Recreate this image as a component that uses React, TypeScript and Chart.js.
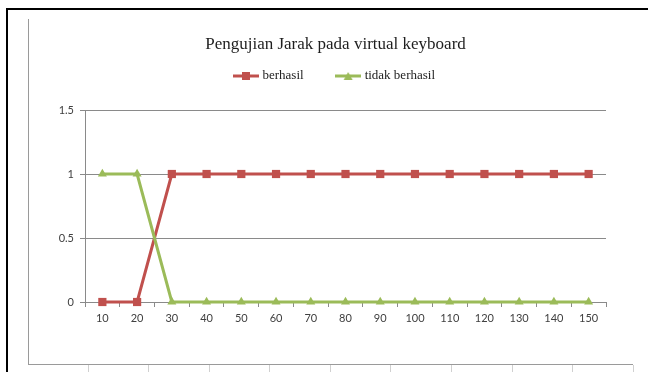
import React, { useEffect, useRef } from 'react';
import { Chart, registerables } from 'chart.js';

Chart.register(...registerables);

// ---- data ----
const distances = ['10', '20', '30', '40', '50', '60', '70', '80', '90', '100', '110', '120', '130', '140', '150'];
const berhasil = [0, 0, 1, 1, 1, 1, 1, 1, 1, 1, 1, 1, 1, 1, 1];
const tidakBerhasil = [1, 1, 0, 0, 0, 0, 0, 0, 0, 0, 0, 0, 0, 0, 0];
const seriesNames = ['berhasil', 'tidak berhasil'];
const titleText = 'Pengujian Jarak pada virtual keyboard';
const yTickValues = [0, 0.5, 1, 1.5];
const yTickLabels = ['0', '0.5', '1', '1.5'];

const RED = '#C0504D';
const GREEN = '#9BBB59';
const GRID = '#8A8A8A';
const LABEL = '#404040';

function legendIcon(color: string, style: 'rect' | 'triangle') {
  const c = document.createElement('canvas');
  c.width = 26;
  c.height = 10;
  const ctx = c.getContext('2d')!;
  ctx.strokeStyle = color;
  ctx.lineWidth = 3;
  ctx.beginPath();
  ctx.moveTo(0, 5);
  ctx.lineTo(26, 5);
  ctx.stroke();
  ctx.fillStyle = color;
  if (style === 'rect') {
    ctx.fillRect(9, 1, 8, 8);
  } else {
    ctx.beginPath();
    ctx.moveTo(13, 1);
    ctx.lineTo(17.5, 9);
    ctx.lineTo(8.5, 9);
    ctx.closePath();
    ctx.fill();
  }
  return c;
}

const legendSpacer = {
  id: 'legendSpacer',
  beforeLayout(chart: any) {
    const lg = chart.legend;
    if (lg && !lg.__spaced) {
      const orig = lg.fit.bind(lg);
      lg.fit = function () {
        orig();
        this.height += 17.5;
      };
      lg.__spaced = true;
    }
  },
};

export default function App() {
  const ref = useRef<HTMLCanvasElement | null>(null);

  useEffect(() => {
    if (!ref.current) return;
    const icons = [legendIcon(RED, 'rect'), legendIcon(GREEN, 'triangle')];
    const chart = new Chart(ref.current, {
      type: 'line',
      data: {
        labels: distances,
        datasets: [
          {
            label: seriesNames[0],
            data: berhasil,
            borderColor: RED,
            backgroundColor: RED,
            borderWidth: 3,
            pointStyle: 'rect',
            pointRadius: 5.8,
            pointBorderWidth: 0,
            pointBackgroundColor: RED,
            tension: 0,
            clip: false as any,
            order: 1,
          },
          {
            label: seriesNames[1],
            data: tidakBerhasil,
            borderColor: GREEN,
            backgroundColor: GREEN,
            borderWidth: 3,
            pointStyle: 'triangle',
            pointRadius: 5.2,
            pointBorderWidth: 0,
            pointBackgroundColor: GREEN,
            tension: 0,
            clip: false as any,
            order: 0,
          },
        ],
      },
      options: {
        responsive: false,
        animation: false,
        layout: { padding: { top: 34, left: 40, right: 17, bottom: 40 } },
        plugins: {
          tooltip: { enabled: false },
          title: {
            display: true,
            text: titleText,
            color: '#1E1E1E',
            font: { family: '"Liberation Serif", serif', size: 17, weight: 'normal' },
            padding: { top: 0, bottom: -19.4 },
          },
          legend: {
            display: true,
            position: 'top',
            labels: {
              usePointStyle: true,
              pointStyleWidth: 20,
              padding: 34.5,
              color: '#222222',
              font: { family: '"Liberation Serif", serif', size: 13 },
              generateLabels: (ch: any) =>
                ch.data.datasets.map((ds: any, i: number) => ({
                  text: ds.label,
                  pointStyle: icons[i],
                  fillStyle: ds.borderColor,
                  strokeStyle: ds.borderColor,
                  lineWidth: 0,
                  hidden: false,
                  datasetIndex: i,
                  fontColor: '#222222',
                })),
            },
          },
        },
        scales: {
          x: {
            type: 'category',
            offset: true,
            grid: { offset: true, drawOnChartArea: false, drawTicks: true, tickLength: 5, color: GRID },
            border: { color: GRID, width: 1 },
            ticks: {
              font: { family: 'Lato', size: 11 },
              color: LABEL,
              padding: 5,
              maxRotation: 0,
              autoSkip: false,
            },
            afterFit: (s: any) => {
              s.height = 30;
            },
          },
          y: {
            min: 0,
            max: 1.5,
            afterBuildTicks: (s: any) => {
              s.ticks = yTickValues.map((v) => ({ value: v }));
            },
            ticks: {
              font: { family: 'Lato', size: 11 },
              color: LABEL,
              padding: 6,
              callback: (v: any) => yTickLabels[yTickValues.indexOf(Number(v))] ?? String(v),
            },
            grid: { color: GRID, tickLength: 5, drawTicks: true },
            border: { color: GRID, width: 1 },
            afterFit: (s: any) => {
              s.width = 45;
            },
          },
          yPad: {
            type: 'linear',
            position: 'right',
            display: true,
            grid: { display: false, drawTicks: false },
            border: { display: false },
            ticks: { display: false },
            afterFit: (s: any) => {
              s.width = 25;
            },
          },
        },
      },
      plugins: [legendSpacer],
    } as any);
    return () => chart.destroy();
  }, []);

  const bottomTicks = [88, 148, 209, 269, 330, 390, 451, 512, 572, 633];

  return (
    <div style={{ position: 'absolute', left: 0, top: 0, width: 648, height: 372, background: '#fff', overflow: 'hidden' }}>
      {/* outer document border */}
      <div style={{ position: 'absolute', left: 6, top: 8, width: 642, height: 2, background: '#000' }} />
      <div style={{ position: 'absolute', left: 6, top: 8, width: 2, height: 364, background: '#000' }} />
      {/* inner chart frame */}
      <div style={{ position: 'absolute', left: 28, top: 19, width: 1, height: 346, background: '#9a9a9a' }} />
      <div style={{ position: 'absolute', left: 28, top: 364, width: 605, height: 1, background: '#9a9a9a' }} />
      {bottomTicks.map((x) => (
        <div key={x} style={{ position: 'absolute', left: x, top: 365, width: 1, height: 7, background: '#d0d0d0' }} />
      ))}
      <canvas
        ref={ref}
        width={648}
        height={372}
        style={{ position: 'absolute', left: 0, top: 0, width: 648, height: 372 }}
      />
    </div>
  );
}
